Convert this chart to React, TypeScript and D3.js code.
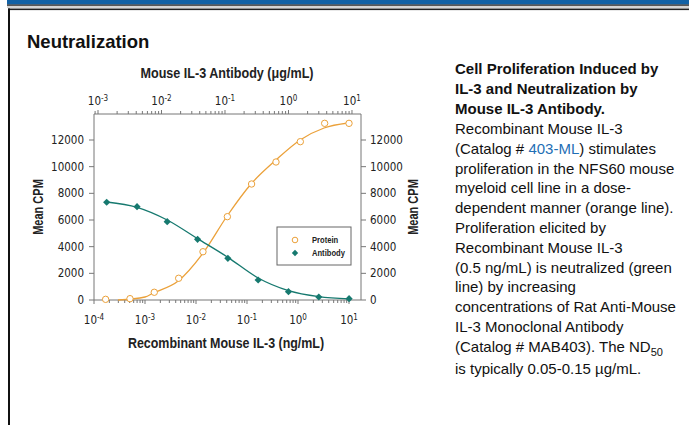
import React from "react";
import * as d3 from "d3";

// protein (ng/mL, bottom axis) – open orange circles
const proteinConc = [0.000169, 0.000508, 0.00152, 0.00457, 0.0137, 0.0412, 0.123, 0.37, 1.11, 3.33, 10];
const proteinCpm = [50, 100, 580, 1630, 3620, 6250, 8700, 10350, 11875, 13250, 13250];
// fitted orange line
const proteinFitConc = [0.000295, 0.001, 0.00145, 0.00447, 0.0138, 0.0407, 0.12, 0.37, 1.1, 3.24, 9.55];
const proteinFitCpm = [0, 225, 525, 1425, 3525, 6300, 8700, 10500, 12000, 12900, 13275];

// antibody (ug/mL, top axis) – filled teal diamonds
const antibodyConc = [0.00137, 0.00412, 0.0123, 0.037, 0.111, 0.333, 1, 3, 9];
const antibodyCpm = [7330, 7000, 5875, 4550, 3125, 1500, 625, 225, 100];
const antibodyFitCpm = [7350, 6950, 6000, 4600, 3200, 1650, 700, 250, 80];

const yTicks = [0, 2000, 4000, 6000, 8000, 10000, 12000];
const bottomDecades = [-4, -3, -2, -1, 0, 1];
const topDecades = [-3, -2, -1, 0, 1];

const legendItems = ["Protein", "Antibody"];

const descTitle = ["Cell Proliferation Induced by", "IL-3 and Neutralization by", "Mouse IL-3 Antibody."];
const descBody = [
  "Recombinant Mouse IL-3",
  "(Catalog # |403-ML|) stimulates",
  "proliferation in the NFS60 mouse",
  "myeloid cell line in a dose-",
  "dependent manner (orange line).",
  "Proliferation elicited by",
  "Recombinant Mouse IL-3",
  "(0.5 ng/mL) is neutralized (green",
  "line) by increasing",
  "concentrations of Rat Anti-Mouse",
  "IL-3 Monoclonal Antibody",
  "(Catalog # MAB403). The ND",
  "is typically 0.05-0.15 \u00b5g/mL.",
];

const ORANGE = "#EBA13A";
const TEAL = "#16796F";
const AXIS = "#777";
const chartFont = "'Liberation Sans Narrow', 'DejaVu Sans Condensed', sans-serif";
const textFont = "'Liberation Sans', Arial, sans-serif";

const plot = { left: 94, right: 361, top: 114, bottom: 300 };

// condensed bold label (the original uses a narrow face)
function Narrow(props: { x: number; y: number; size: number; sx: number; rot?: boolean; children: React.ReactNode; anchor?: string }) {
  const { x, y, size, sx, rot, children, anchor } = props;
  return (
    <text
      transform={`translate(${x},${y})${rot ? " rotate(-90)" : ""} scale(${sx},1)`}
      fontFamily={textFont}
      fontWeight="bold"
      fontSize={size}
      fill="#222"
      textAnchor={anchor || "middle"}
    >
      {children}
    </text>
  );
}

export default function App() {
  const xBottom = d3.scaleLog().domain([1e-4, Math.pow(10, 1.235)]).range([plot.left, plot.right]);
  const xTop = d3.scaleLog().domain([Math.pow(10, -3.063), Math.pow(10, 1.142)]).range([plot.left, plot.right]);
  const y = d3.scaleLinear().domain([0, 13950]).range([plot.bottom, plot.top]);

  const line = d3.line<[number, number]>().x((d) => d[0]).y((d) => d[1]).curve(d3.curveMonotoneX);
  const proteinPath = line(proteinFitConc.map((c, i) => [xBottom(c), y(proteinFitCpm[i])]));
  const antibodyPath = line(antibodyConc.map((c, i) => [xTop(c), y(antibodyFitCpm[i])]));

  const minor = (scale: d3.ScaleLogarithmic<number, number>, decades: number[]) => {
    const [lo, hi] = scale.domain();
    const out: { v: number; major: boolean }[] = [];
    const start = Math.floor(Math.log10(lo));
    const end = Math.ceil(Math.log10(hi));
    for (let e = start; e <= end; e++) {
      for (let m = 1; m < 10; m++) {
        const v = m * Math.pow(10, e);
        if (v < lo || v > hi) continue;
        out.push({ v, major: m === 1 && decades.includes(e) });
      }
    }
    return out;
  };

  const diamond = (cx: number, cy: number, r: number) =>
    `M${cx},${cy - r}L${cx + r},${cy}L${cx},${cy + r}L${cx - r},${cy}Z`;

  const midY = (plot.top + plot.bottom) / 2;

  return (
    <svg width={689} height={425} style={{ position: "absolute", left: 0, top: 0 }}>
      <rect x={0} y={0} width={689} height={425} fill="#fff" />
      {/* page frame */}
      <rect x={7} y={0} width={682} height={4.5} fill="#1161A5" />
      <rect x={7} y={4.5} width={682} height={1.2} fill="#111" />
      <rect x={7} y={6.5} width={682} height={1} fill="#aaa" />
      <rect x={8} y={8.5} width={681} height={1.6} fill="#222" />
      <rect x={8} y={8.5} width={2} height={417} fill="#111" />

      <text x={27} y={48} fontFamily={textFont} fontWeight="bold" fontSize={18.5} fill="#111">
        Neutralization
      </text>

      {/* chart title */}
      <Narrow x={227} y={78} size={15} sx={0.84}>
        Mouse IL-3 Antibody ({"\u03bc"}g/mL)
      </Narrow>

      {/* plot box */}
      <g stroke={AXIS} strokeWidth={1} fill="none">
        <line x1={plot.left} x2={plot.left} y1={plot.top} y2={plot.bottom} />
        <line x1={plot.right} x2={plot.right} y1={plot.top} y2={plot.bottom} />
        <line x1={plot.left} x2={plot.right} y1={plot.top} y2={plot.top} />
        <line x1={plot.left} x2={plot.right} y1={plot.bottom} y2={plot.bottom} />
      </g>

      {/* y ticks both sides */}
      {yTicks.map((t) => (
        <g key={t} fontFamily={chartFont} fontSize={11.5} fill="#222">
          <line x1={plot.left - 5} x2={plot.left} y1={y(t)} y2={y(t)} stroke={AXIS} />
          <line x1={plot.right} x2={plot.right + 5} y1={y(t)} y2={y(t)} stroke={AXIS} />
          <text x={plot.left - 10} y={y(t) + 4} textAnchor="end">{t}</text>
          <text x={plot.right + 9} y={y(t) + 4}>{t}</text>
        </g>
      ))}

      {/* bottom log axis */}
      {minor(xBottom, bottomDecades).map((d, i) => (
        <line key={"b" + i} x1={xBottom(d.v)} x2={xBottom(d.v)} y1={plot.bottom} y2={plot.bottom + (d.major ? 4 : 3)} stroke={AXIS} />
      ))}
      {bottomDecades.map((e) => (
        <text key={"bl" + e} x={xBottom(Math.pow(10, e))} y={324} textAnchor="middle" fontFamily={chartFont} fontSize={11.5} fill="#222">
          10<tspan dy={-4} fontSize={8}>{e}</tspan>
        </text>
      ))}

      {/* top log axis */}
      {minor(xTop, topDecades).map((d, i) => (
        <line key={"t" + i} x1={xTop(d.v)} x2={xTop(d.v)} y1={plot.top} y2={plot.top - (d.major ? 4 : 3)} stroke={AXIS} />
      ))}
      {topDecades.map((e) => (
        <text key={"tl" + e} x={xTop(Math.pow(10, e))} y={105} textAnchor="middle" fontFamily={chartFont} fontSize={11.5} fill="#222">
          10<tspan dy={-4} fontSize={8}>{e}</tspan>
        </text>
      ))}

      {/* axis titles */}
      <Narrow x={226} y={348} size={15} sx={0.83}>
        Recombinant Mouse IL-3 (ng/mL)
      </Narrow>
      <Narrow x={43} y={midY} size={14.5} sx={0.76} rot>
        Mean CPM
      </Narrow>
      <Narrow x={418} y={midY} size={14.5} sx={0.76} rot>
        Mean CPM
      </Narrow>

      {/* fitted lines */}
      <path d={proteinPath || ""} fill="none" stroke={ORANGE} strokeWidth={1.3} />
      <path d={antibodyPath || ""} fill="none" stroke={TEAL} strokeWidth={1.3} />

      {/* points */}
      {proteinConc.map((c, i) => (
        <circle key={"p" + i} cx={xBottom(c)} cy={y(proteinCpm[i])} r={3.2} fill="#fff" stroke={ORANGE} strokeWidth={1} />
      ))}
      {antibodyConc.map((c, i) => (
        <path key={"a" + i} d={diamond(xTop(c), y(antibodyCpm[i]), 3.6)} fill={TEAL} />
      ))}

      {/* legend */}
      <rect x={277} y={227} width={74} height={38} fill="#fff" stroke="#666" strokeWidth={1} />
      {legendItems.map((name, i) => (
        <g key={name}>
          {i === 0 ? (
            <circle cx={295} cy={240} r={2.8} fill="#fff" stroke={ORANGE} />
          ) : (
            <path d={diamond(295, 253, 3.2)} fill={TEAL} />
          )}
          <Narrow x={312} y={243 + i * 13} size={9.5} sx={0.8} anchor="start">
            {name}
          </Narrow>
        </g>
      ))}

      {/* description */}
      <g fontFamily={textFont} fontSize={15} fill="#111">
        {descTitle.map((t, i) => (
          <text key={"dt" + i} x={455} y={74 + i * 19.8} fontWeight="bold">{t}</text>
        ))}
        {descBody.map((t, i) => {
          const yy = 134 + i * 19.8 + (i === descBody.length - 1 ? 2 : 0);
          if (t.includes("|")) {
            const parts = t.split("|");
            return (
              <text key={"db" + i} x={455} y={yy}>
                {parts[0]}<tspan fill="#1F6FB5">{parts[1]}</tspan>{parts[2]}
              </text>
            );
          }
          if (i === descBody.length - 2) {
            return (
              <text key={"db" + i} x={455} y={yy}>
                {t}<tspan dy={4} fontSize={11}>50</tspan>
              </text>
            );
          }
          return <text key={"db" + i} x={455} y={yy}>{t}</text>;
        })}
      </g>
    </svg>
  );
}
